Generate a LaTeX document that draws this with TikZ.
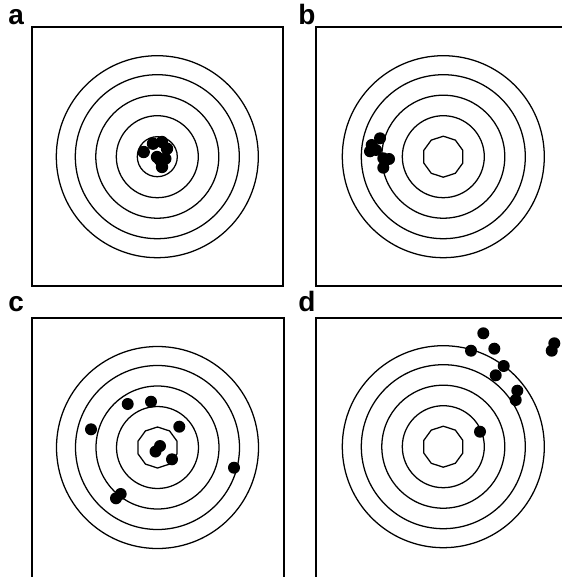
\documentclass[tikz,border=0pt]{standalone}
\usepackage{fontspec}
\setsansfont{Liberation Sans}
\begin{document}
\begin{tikzpicture}[x=0.75pt,y=0.75pt,yscale=-1,xscale=1,
		ring/.style={line width=0.95pt},
		frame/.style={line width=0.95pt},
		shot/.style={fill=black},
		tag/.style={anchor=base west,inner sep=0pt,font=\sffamily\bfseries\fontsize{21}{21}\selectfont}]
				\useasboundingbox (0,0) rectangle (561,577);

				%Frames
				\draw [frame] (32,27) rectangle (283,286);
				\draw [frame] (316,27) rectangle (570,286);
				\draw [frame] (32,318) rectangle (284,582);
				\draw [frame] (316,318) rectangle (570,582);

				%Rings
				\foreach \cx/\cy [count=\i] in {157.3/156.7,443.3/156.7,157.5/447.5,443.3/446.7}{
					\coordinate (t\i) at (\cx,\cy);
					\foreach \r in {41,61.5,82,101}
						\draw [ring] (t\i) circle (\r);
				}
				%inner ring a
				\draw [ring] (t1) circle (20);
				%inner rings b c d
				\foreach \cx/\cy in {443.3/156.7,157.5/447.5,443.3/446.7}
					\draw [ring,shift={(\cx,\cy)}] (90:20.5) -- (126:20.5) -- (162:20.5) -- (198:20.5) -- (234:20.5) -- (270:20.5) -- (306:20.5) -- (342:20.5) -- (18:20.5) -- (54:20.5) -- cycle;

				%Shots a
				\foreach \x/\y in {153/143.7,143.7/152,162/142,167/148.7,157/157,165.3/158.7,162/167,160/160}
					\fill [shot] (\x,\y) circle (6.2);
				%Shots b
				\foreach \x/\y in {380/138.3,371.7/145,370/151.3,376/150,383.3/158.3,389/159,383.3/167.7}
					\fill [shot] (\x,\y) circle (6);
				%Shots c
				\foreach \x/\y in {127.7/404,151/401.7,91/429.3,179.3/426.7,160/446,155.5/451.5,172/459.3,234/467.7,120.7/494,116/498.3}
					\fill [shot] (\x,\y) circle (6);
				%Shots d
				\foreach \x/\y in {483.3/333.3,471/350.7,494.3/348.7,503.7/366,495.7/375.3,517.3/390.7,515.7/400,480/431.7,554.3/343.3,551.7/350.7}
					\fill [shot] (\x,\y) circle (6);

				% Text Node
				\node [tag] (la) at (8,25) {a};
				% Text Node
				\node [tag] (lb) at (298,25) {b};
				% Text Node
				\node [tag] (lc) at (8,311) {c};
				% Text Node
				\node [tag] (ld) at (298,311) {d};
			\end{tikzpicture}
\end{document}
